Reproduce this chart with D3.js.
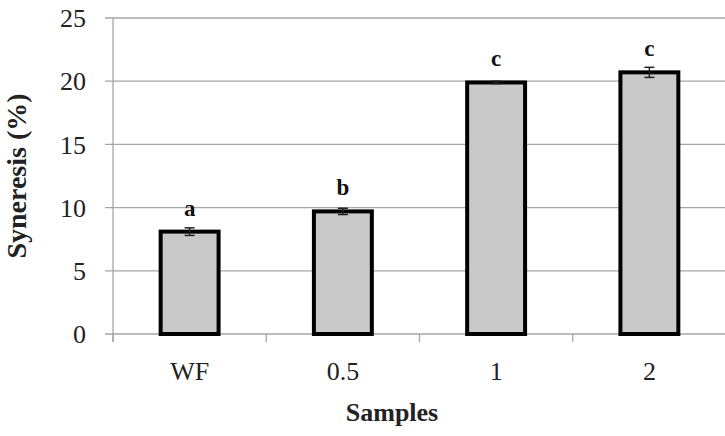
<!DOCTYPE html>
<html>
<head>
  <meta charset="utf-8">
  <script src="https://d3js.org/d3.v7.min.js"></script>
  <style>
    body {
      margin: 0;
      padding: 0;
      background: #fff;
    }
  </style>
</head>
<body>
  <div id="chart"></div>
  <script>

    var samples = ["WF", "0.5", "1", "2"];
    var syneresis = [8.1, 9.7, 19.9, 20.7];
    var errors = [0.3, 0.25, 0.1, 0.4];
    var letters = ["a", "b", "c", "c"];
    var yTicks = [0, 5, 10, 15, 20, 25];

    var width = 725, height = 436;
    var margin = { top: 18, right: -1, bottom: 102, left: 113 };
    var serif = "'Liberation Serif', 'Times New Roman', Times, serif";

    var svg = d3.select("#chart").append("svg")
        .attr("width", width)
        .attr("height", height)
        .style("font-family", serif);

    var x = d3.scaleBand()
        .domain(samples)
        .range([margin.left, width - margin.right])
        .padding(0);

    var y = d3.scaleLinear()
        .domain([0, 25])
        .range([height - margin.bottom, margin.top]);

    // gridlines
    svg.append("g")
      .selectAll("line")
      .data(yTicks)
      .enter().append("line")
        .attr("x1", margin.left - 8)
        .attr("x2", width)
        .attr("y1", function(d) { return y(d); })
        .attr("y2", function(d) { return y(d); })
        .attr("stroke", "#a6a6a6")
        .attr("stroke-width", 1.3);

    // y axis line
    svg.append("line")
        .attr("x1", margin.left).attr("x2", margin.left)
        .attr("y1", y(25)).attr("y2", y(0) + 8)
        .attr("stroke", "#a6a6a6")
        .attr("stroke-width", 1.3);

    // x category ticks
    var xTickPos = samples.map(function(d) { return x(d); }).concat([x(samples[samples.length - 1]) + x.bandwidth()]);
    svg.append("g")
      .selectAll("line")
      .data(xTickPos)
      .enter().append("line")
        .attr("x1", function(d) { return d; })
        .attr("x2", function(d) { return d; })
        .attr("y1", y(0))
        .attr("y2", y(0) + 8)
        .attr("stroke", "#a6a6a6")
        .attr("stroke-width", 1.3);

    // y tick labels
    svg.append("g")
      .selectAll("text")
      .data(yTicks)
      .enter().append("text")
        .attr("x", 86)
        .attr("y", function(d) { return y(d); })
        .attr("dy", "0.35em")
        .attr("text-anchor", "end")
        .attr("font-size", 26)
        .attr("fill", "#222")
        .text(function(d) { return d; });

    // x tick labels
    svg.append("g")
      .selectAll("text")
      .data(samples)
      .enter().append("text")
        .attr("x", function(d) { return x(d) + x.bandwidth() / 2; })
        .attr("y", 380)
        .attr("text-anchor", "middle")
        .attr("font-size", 26)
        .attr("fill", "#222")
        .text(function(d) { return d; });

    // bars
    var barW = x.bandwidth() * 0.378;
    var data = samples.map(function(s, i) {
      return { name: s, value: syneresis[i], err: errors[i], letter: letters[i] };
    });

    svg.selectAll(".bar")
        .data(data)
      .enter().append("rect")
        .attr("class", "bar")
        .attr("x", function(d) { return x(d.name) + x.bandwidth() / 2 - barW / 2; })
        .attr("y", function(d) { return y(d.value); })
        .attr("width", barW)
        .attr("height", function(d) { return y(0) - y(d.value); })
        .attr("fill", "#c9c9c9")
        .attr("stroke", "#000")
        .attr("stroke-width", 4);

    // error bars
    var eb = svg.selectAll(".err")
        .data(data)
      .enter().append("g")
        .attr("class", "err")
        .attr("stroke", "#222")
        .attr("stroke-width", 1.5);

    eb.append("line")
        .attr("x1", function(d) { return x(d.name) + x.bandwidth() / 2; })
        .attr("x2", function(d) { return x(d.name) + x.bandwidth() / 2; })
        .attr("y1", function(d) { return y(d.value - d.err); })
        .attr("y2", function(d) { return y(d.value + d.err); });

    [-1, 1].forEach(function(s) {
      eb.append("line")
          .attr("x1", function(d) { return x(d.name) + x.bandwidth() / 2 - 5; })
          .attr("x2", function(d) { return x(d.name) + x.bandwidth() / 2 + 5; })
          .attr("y1", function(d) { return y(d.value + s * d.err); })
          .attr("y2", function(d) { return y(d.value + s * d.err); });
    });

    // significance letters
    svg.selectAll(".letter")
        .data(data)
      .enter().append("text")
        .attr("class", "letter")
        .attr("x", function(d) { return x(d.name) + x.bandwidth() / 2; })
        .attr("y", function(d) { return y(d.value) - 16; })
        .attr("text-anchor", "middle")
        .attr("font-size", 23)
        .attr("font-weight", "bold")
        .attr("fill", "#111")
        .text(function(d) { return d.letter; });

    // axis titles
    svg.append("text")
        .attr("transform", "translate(26," + ((y(0) + y(25)) / 2) + ") rotate(-90)")
        .attr("text-anchor", "middle")
        .attr("font-size", 28)
        .attr("font-weight", "bold")
        .attr("fill", "#222")
        .text("Syneresis (%)");

    svg.append("text")
        .attr("x", 392)
        .attr("y", 421)
        .attr("text-anchor", "middle")
        .attr("font-size", 26)
        .attr("font-weight", "bold")
        .attr("fill", "#222")
        .text("Samples");

  </script>
</body>
</html>
